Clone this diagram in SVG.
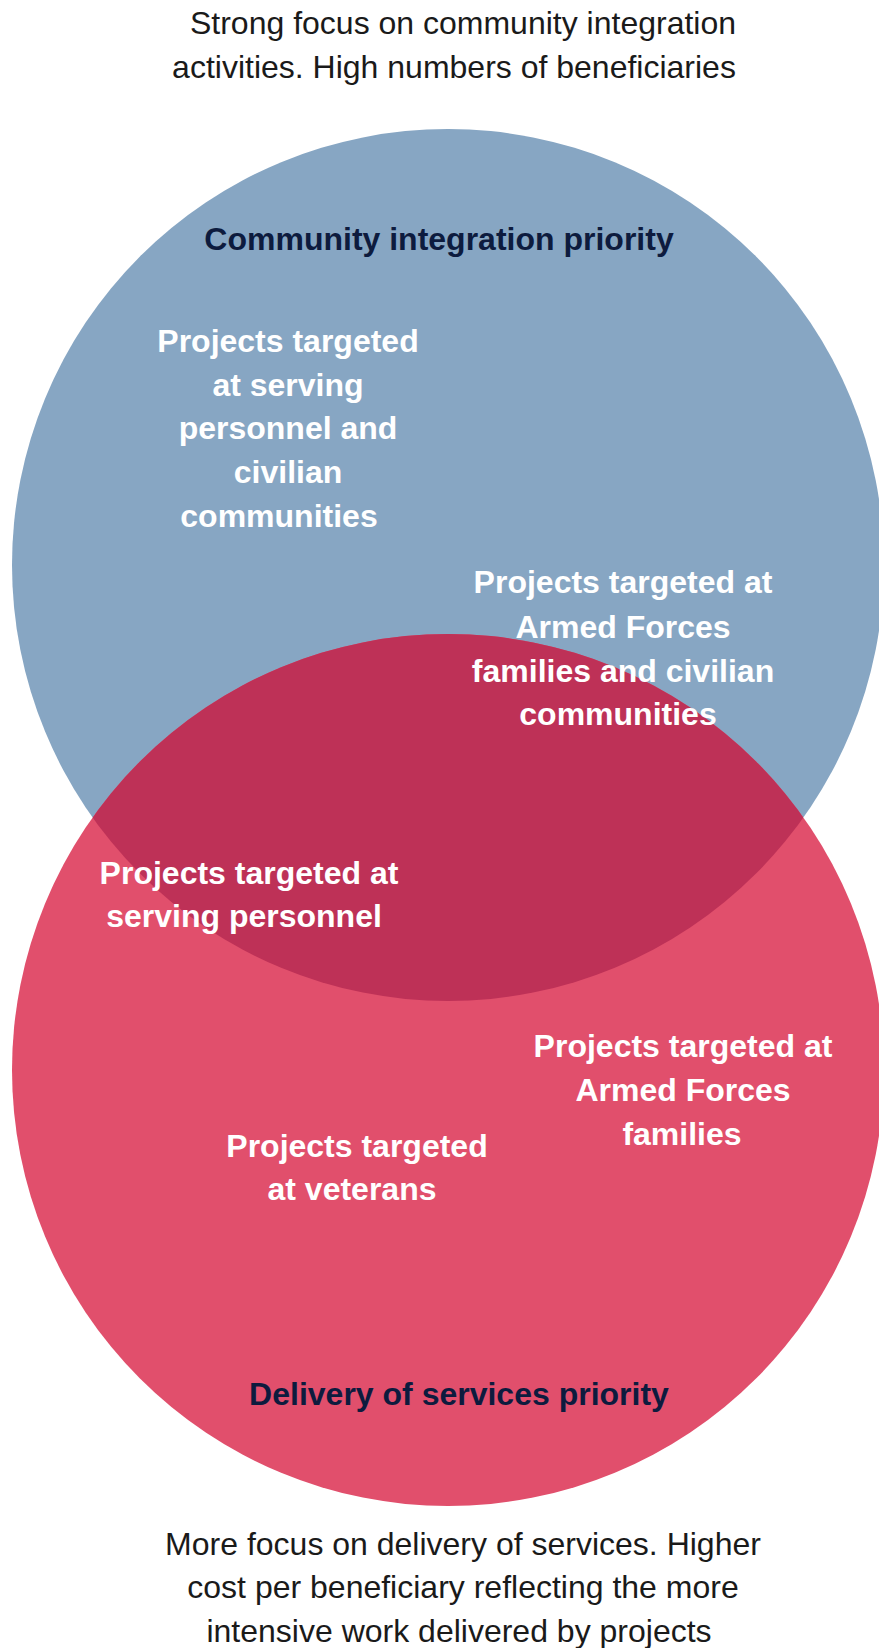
<svg xmlns="http://www.w3.org/2000/svg" width="879" height="1648" viewBox="0 0 879 1648">
  <style>
    .caption { font-family: "Liberation Sans", Arial, sans-serif; font-size: 32px; fill: #1a1a1a; text-anchor: middle; }
    .heading { font-family: "Liberation Sans", Arial, sans-serif; font-size: 32px; font-weight: bold; fill: #0d1b3e; text-anchor: middle; }
    .label { font-family: "Liberation Sans", Arial, sans-serif; font-size: 32px; font-weight: bold; fill: #ffffff; text-anchor: middle; }
  </style>
  <defs>
    <clipPath id="communityClip">
      <circle cx="448" cy="565" r="436"/>
    </clipPath>
  </defs>

  <rect x="0" y="0" width="879" height="1648" fill="#ffffff"/>

  <!-- Caption above the diagram -->
  <g id="caption-top">
    <text class="caption" x="463" y="34">Strong focus on community integration</text>
    <text class="caption" x="454" y="78">activities. High numbers of beneficiaries</text>
  </g>

  <!-- Community integration set -->
  <g id="set-community">
    <circle cx="448" cy="565" r="436" fill="#87a6c3"/>
  </g>

  <!-- Delivery of services set -->
  <g id="set-delivery">
    <circle cx="448" cy="1070" r="436" fill="#e14f6c"/>
  </g>

  <!-- Intersection of both sets -->
  <g id="set-overlap">
    <circle cx="448" cy="1070" r="436" fill="#be3157" clip-path="url(#communityClip)"/>
  </g>

  <g id="heading-community">
    <text class="heading" x="439" y="250">Community integration priority</text>
  </g>

  <g id="label-serving-civilian">
    <text class="label" x="288" y="352">Projects targeted</text>
    <text class="label" x="288" y="396">at serving</text>
    <text class="label" x="288" y="439">personnel and</text>
    <text class="label" x="288" y="483">civilian</text>
    <text class="label" x="279" y="527">communities</text>
  </g>

  <g id="label-families-civilian">
    <text class="label" x="623" y="593">Projects targeted at</text>
    <text class="label" x="623" y="638">Armed Forces</text>
    <text class="label" x="623" y="682">families and civilian</text>
    <text class="label" x="618" y="725">communities</text>
  </g>

  <g id="label-serving">
    <text class="label" x="249" y="884">Projects targeted at</text>
    <text class="label" x="244" y="927">serving personnel</text>
  </g>

  <g id="label-families">
    <text class="label" x="683" y="1057">Projects targeted at</text>
    <text class="label" x="683" y="1101">Armed Forces</text>
    <text class="label" x="682" y="1145">families</text>
  </g>

  <g id="label-veterans">
    <text class="label" x="357" y="1157">Projects targeted</text>
    <text class="label" x="352" y="1200">at veterans</text>
  </g>

  <g id="heading-delivery">
    <text class="heading" x="459" y="1405">Delivery of services priority</text>
  </g>

  <!-- Caption below the diagram -->
  <g id="caption-bottom">
    <text class="caption" x="463" y="1555">More focus on delivery of services. Higher</text>
    <text class="caption" x="463" y="1598">cost per beneficiary reflecting the more</text>
    <text class="caption" x="459" y="1642">intensive work delivered by projects</text>
  </g>
</svg>
